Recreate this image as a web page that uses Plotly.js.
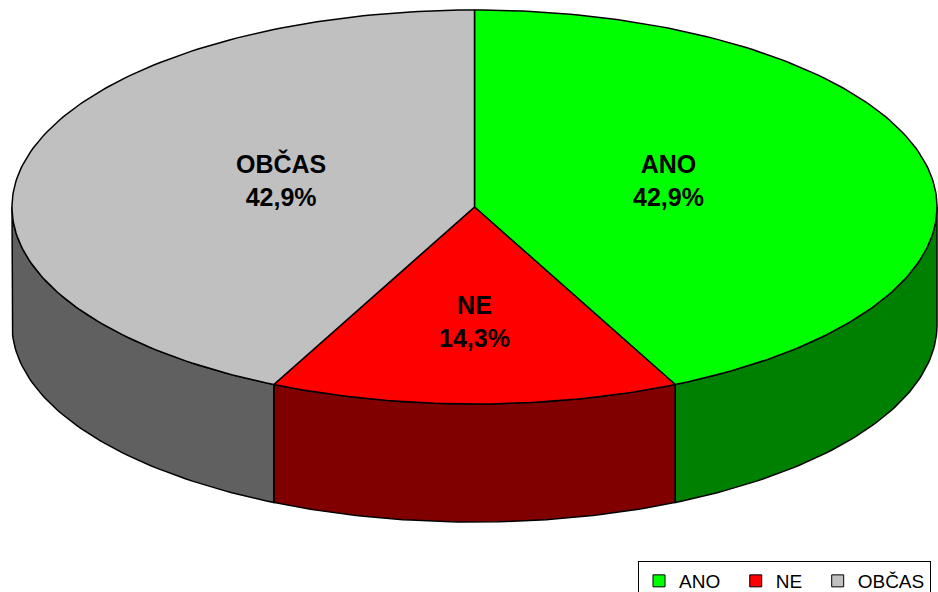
<!DOCTYPE html>
<html><head><meta charset="utf-8">
<script src="https://cdn.plot.ly/plotly-3.0.1.min.js"></script>
<style>html,body{margin:0;padding:0;background:#fff}#chart{width:938px;height:592px}</style>
</head><body><div id="chart"></div>
<script>
// ---- data ----
const categories = ['ANO', 'NE', 'OBČAS'];
const values = [3, 1, 3];
const topColors = ['#00FF00', '#FF0000', '#C0C0C0'];
const sideColors = ['#008000', '#800000', '#606060'];

// ---- geometry (styling) ----
const W = 938, H = 592;
const cx = 474.5, cy = 207, rx = 462.5, ry = 197, depth = 118;
const labelR = [0.43, 0.58, 0.43];
const labelDy = [-8, 0, -8];
const FONT = 'Arial, "Liberation Sans", sans-serif';

const total = values.reduce((a, b) => a + b, 0);
function pt(theta, dy) {
  const t = theta * Math.PI / 180;
  return [cx + rx * Math.sin(t), cy - ry * Math.cos(t) + (dy || 0)];
}
function arc(a0, a1, dy) {
  const pts = [];
  const n = Math.max(2, Math.ceil(Math.abs(a1 - a0)));
  for (let i = 0; i <= n; i++) pts.push(pt(a0 + (a1 - a0) * i / n, dy));
  return pts;
}

const walls = [], tops = [], annotations = [], legendTraces = [];
let start = 0;
values.forEach((v, i) => {
  const sweep = v / total * 360;
  const a0 = start, a1 = start + sweep;
  start = a1;
  const s0 = Math.max(a0, 90), s1 = Math.min(a1, 270);
  if (s1 > s0) {
    const top = arc(s0, s1, 0), bot = arc(s1, s0, depth);
    const p = top.concat(bot); p.push(top[0]);
    walls.push({type: 'scatter', mode: 'lines', x: p.map(q => q[0]), y: p.map(q => q[1]),
      fill: 'toself', fillcolor: sideColors[i], line: {color: '#000', width: 1.5},
      hoverinfo: 'skip', showlegend: false});
  }
  const p2 = [[cx, cy]].concat(arc(a0, a1, 0)); p2.push([cx, cy]);
  tops.push({type: 'scatter', mode: 'lines', x: p2.map(q => q[0]), y: p2.map(q => q[1]),
    fill: 'toself', fillcolor: topColors[i], line: {color: '#000', width: 1.5},
    hoverinfo: 'skip', showlegend: false});
  const mid = (a0 + a1) / 2 * Math.PI / 180;
  const pct = (v / total * 100).toFixed(1).replace('.', ',');
  annotations.push({xref: 'x', yref: 'y',
    x: cx + rx * labelR[i] * Math.sin(mid), y: cy - ry * labelR[i] * Math.cos(mid) + labelDy[i],
    text: '<b>' + categories[i] + '<br>' + pct + '%</b>', showarrow: false,
    font: {family: FONT, size: 25, color: '#000'}});
  legendTraces.push({type: 'scatter', mode: 'markers', x: [null], y: [null],
    name: categories[i] + (i < categories.length - 1 ? '\u00a0\u00a0' : ''),
    marker: {symbol: 'square', size: 12, color: topColors[i], line: {color: '#000', width: 1}},
    hoverinfo: 'skip'});
});

const layout = {
  width: W, height: H,
  margin: {l: 0, r: 0, t: 0, b: 0, autoexpand: false},
  paper_bgcolor: '#fff', plot_bgcolor: '#fff',
  xaxis: {range: [0, W], visible: false, fixedrange: true},
  yaxis: {range: [H, 0], visible: false, fixedrange: true},
  showlegend: true,
  legend: {orientation: 'h', x: 638 / W, xanchor: 'left', y: 1 - 561 / H, yanchor: 'top',
    bordercolor: '#000', borderwidth: 1, bgcolor: '#fff', traceorder: 'normal',
    font: {family: FONT, size: 19, color: '#000'}},
  annotations: annotations
};
Plotly.newPlot('chart', walls.concat(tops, legendTraces), layout, {displayModeBar: false, staticPlot: true});
</script></body></html>
